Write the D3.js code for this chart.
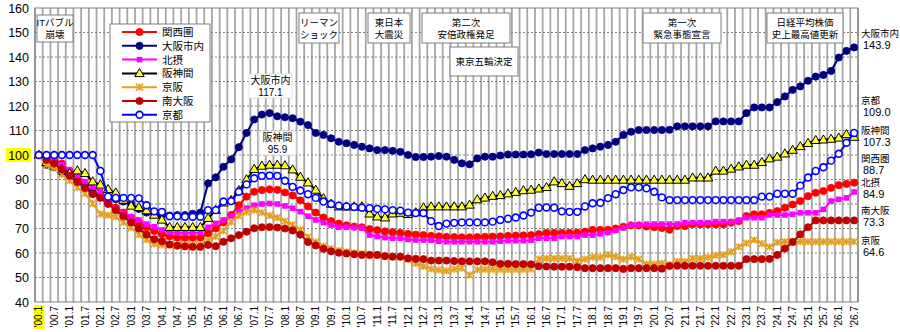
<!DOCTYPE html>
<html><head><meta charset="utf-8">
<script src="https://cdn.jsdelivr.net/npm/d3@7"></script>
<style>
body{margin:0;background:#fff;}
svg text{font-family:"Liberation Sans","Noto Sans CJK JP",sans-serif;fill:#000;}
</style></head><body>
<svg id="chart" width="900" height="332"></svg>
<script>
// ---------- data ----------
const categories = [];
for (let yr = 2000; yr <= 2026; yr++) for (const m of [1,4,7,10]) { if (yr === 2026 && m > 7) break; categories.push(yr + "." + m); }

const tickLabels = ["'00.1","'00.7","'01.1","'01.7","'02.1","'02.7","'03.1","'03.7","'04.1","'04.7","'05.1","'05.7","'06.1","'06.7","'07.1","'07.7","'08.1","'08.7","'09.1","'09.7","'10.1","'10.7","'11.1","'11.7","'12.1","'12.7","'13.1","'13.7","'14.1","'14.7","'15.1","'15.7","'16.1","'16.7","'17.1","'17.7","'18.1","'18.7","'19.1","'19.7","'20.1","'20.7","'21.1","'21.7","'22.1","'22.7","'23.1","'23.7","'24.1","'24.7","'25.1","'25.7","'26.1","'26.7"];
const yTicks = [40,50,60,70,80,90,100,110,120,130,140,150,160];
const seriesNames = ["関西圏","大阪市内","北摂","阪神間","京阪","南大阪","京都"];

const kansai = [100,99,98,96.5,93.5,90.5,87.5,85,83.5,81,78.5,76.5,74.5,72.5,70.5,69,67.8,66.8,66.3,66.2,66.2,66.3,68,70,72.5,75.5,79.5,83,85,85.7,86,85.8,84.7,83.5,81.5,79,76.5,74.5,73,72,71.3,70.8,70.5,69.8,69.3,68.8,68.5,68.2,67.8,67.5,67.3,67,66.8,66.6,66.5,66.4,66.4,66.5,66.6,66.7,66.8,67,67.1,67.2,67.3,67.7,68.2,68.2,68.2,68.2,68.3,68.7,69.4,69.4,69.5,70,70.7,71.3,71.3,70.8,70.5,70.2,69.5,71,71,71.7,71.7,71.7,71.7,71.7,72.4,73,75.1,75.8,75.8,76.4,77.1,78.5,79.8,81.2,83.2,84.6,85.3,86.6,87.7,88.2,88.7];
const osakaCity = [100,96,95,93,91.5,89.5,87,84.5,83,82.3,82,81,80,78,76.5,76,75.5,75.3,75.5,75.5,76,76.5,88.4,90.9,95.2,98.2,103.2,109,114.5,116.5,117.1,115.8,115.4,115,113.6,112.2,109,108.2,106.8,105.4,104.8,104.1,103.4,102.7,102,102,101.7,101.3,100,99.2,99.2,99.3,99.6,99.3,98,96.6,96.2,98.6,99.3,99.3,99.8,100.2,100.2,100.2,100.3,101,100.4,100.4,100.4,100.4,100.4,102,102.7,103.4,104.1,105.4,108.2,109.5,110.2,110.2,110.2,110.2,110.3,111.7,111.7,111.7,111.7,111.7,113.7,113.7,113.7,113.7,117.1,119.4,119.4,119.4,121.6,123.9,126.6,128,130.3,132,132.7,134.3,139.8,142.5,143.9];
const hokusetsu = [100,99,97.5,96,94,91.5,89.1,87,85,80.5,78,76.2,74.8,73.5,71.8,70.7,69.4,68.5,68.2,68.2,68.2,68.3,70.5,72.1,73.5,75.1,76.9,78.3,79.5,80,80.2,80,79.2,78.3,76.9,75,73.5,72.4,71.4,70.5,70.5,70.4,70.3,67.3,66.7,66.3,66,66,65.5,65.3,65.3,65.2,64.8,64.6,64.6,64.6,64.6,64.6,64.6,64.6,64.8,65,65,65,65.2,66,66,66,66.7,66.7,66.7,67.3,67.3,67.8,68.3,69.2,70.3,71.4,71.4,71.8,71.8,71.8,71.8,71.8,72.4,72.4,72.4,72.4,72.8,72.8,72.8,73.3,74.4,74.4,74.4,75.5,75.5,75.5,75.8,76.4,76.4,76.4,77.8,81.2,81.9,82.5,84.9];
const hanshin = [100,97,95.5,94.2,92.5,93.6,92.5,89.1,87.8,86,84.6,81.6,79.2,78.6,77.3,75.5,73.5,70.5,70.5,70.5,70.5,70.5,74.2,77.5,80.5,81.5,85.5,90,94.2,95.5,95.9,95.9,95.7,94,91,88.7,85.7,82.3,80,78.9,78.9,78.9,78.9,76,74.8,74.4,76,76.3,75.8,76.5,78.5,78.9,78.9,78.9,78.9,78.9,79.6,81.8,82.5,83.2,83.5,84.2,84.8,85.5,85.7,86.2,86.8,89.1,88.4,87.3,88.4,90,89.8,89.8,89.8,89.8,89.8,89.8,89.8,89.8,89.8,89.8,89.8,89.8,89.8,90.7,90.7,90.7,93.5,93.5,94.3,95.2,95.9,95.9,97,98.5,99.2,100.5,102,103.5,104.8,106,106.2,106.5,107,108.4,107.3];
const keihan = [100,96,94.8,92,89.5,86.7,84.3,80.2,75.9,75.5,74.7,72.5,70.3,67.5,65.5,63.7,63.3,63.2,63.2,63.2,63.3,63.3,65,66.7,69,72.7,75.2,76.7,77.5,76.5,75.3,74.4,73,71.5,69.5,66.5,64.5,62.8,61.8,61,60.5,60,59.6,59.3,59.2,58.8,58.6,58.5,57.5,55.8,54.5,53.5,53.1,52.7,53.4,53.8,51,53.1,53.3,53.3,53.3,53.3,53.3,53.3,53.4,57.5,57.8,57.8,57.8,57.8,56.8,57.5,58.3,58.3,59.3,58.5,57.5,58.4,57.5,55.5,55.5,55.8,55.2,56.5,56.5,57.8,57.8,58.2,59,59.2,60.5,62.5,64,65.3,63.8,62.5,64.3,64.6,64.6,64.6,64.6,64.6,64.6,64.6,64.6,64.6,64.6];
const minamiOsaka = [100,98,96.5,94,91.5,89,86.5,84,82.5,80,77.5,75,72.5,70,67.5,65.6,64.8,63.5,63,62.7,62.5,62.5,63.3,62.8,64.6,66,67.3,68.7,70.1,70.5,70.6,70.4,70,69.2,67.5,64.5,63.1,61.7,60.7,60.1,59.8,59.5,59.2,59.2,59.2,58.7,58.5,58.5,57.8,57.6,57.5,56.9,56.9,56.9,56.7,56.6,56.6,56.6,56.6,56.2,55.6,55.6,55.5,55.5,55.4,54.6,54.5,54.4,54.4,54.4,54.2,53.8,53.8,53.8,53.8,53.8,53.5,53.8,53.8,53.8,53.8,53.6,54.7,54.8,54.8,54.8,54.8,54.8,54.8,54.8,54.8,54.8,57.5,57.5,57.5,57.6,59.2,61.8,64.5,67.6,70.5,73.3,73.3,73.3,73.3,73.3,73.3];
const kyoto = [100,100,100,100,100,100,100,100,93.5,83,82.5,82.5,82.5,82.3,79.5,77,76.8,75,75,74.8,74.8,74.8,77.5,77.5,81,81.2,85,88,90.5,91.5,91.6,91.5,89.5,87,85.5,84,82.5,81,80,79.3,79,78.8,78.5,78.3,78,77.8,77.5,77.3,76.5,76.3,76.3,73,71,72,72.3,72.5,72.5,72.5,72.5,72.8,73.5,74,74.5,75.3,76.5,78.5,78.6,78.5,77,76.8,76.8,79,80.3,80.5,82.4,84,85.7,86.8,86.8,86.4,85,82.7,81.6,81.6,81.6,81.6,81.6,81.6,81.6,81.6,81.6,81.6,81.6,81.6,83,83,84.2,84.2,84.2,87.5,90.8,93.5,95,97.7,100.5,105,109.0];

const events = [
  {lines:["ITバブル","崩壊"], x0:37, x1:73, y0:15, y1:42},
  {lines:["リーマン","ショック"], x0:299, x1:339, y0:13, y1:43},
  {lines:["東日本","大震災"], x0:368, x1:410, y0:13, y1:43},
  {lines:["第二次","安倍政権発足"], x0:422, x1:510, y0:13, y1:43},
  {lines:["東京五輪決定"], x0:450, x1:518, y0:47, y1:76},
  {lines:["第一次","緊急事態宣言"], x0:643, x1:721, y0:13, y1:43},
  {lines:["日経平均株価","史上最高値更新"], x0:767, x1:843, y0:13, y1:43}
];

// ---------- chart ----------
const svg = d3.select("#chart");
const L = 35, R = 858, T = 8, B = 302;
const x = d3.scaleBand().domain(categories).range([L, R]);
const y = d3.scaleLinear().domain([40, 160]).range([B, T]);
const cx = c => x(c) + x.bandwidth() / 2;

const series = [
  {name:"関西圏", values:kansai, color:"#ff0000", marker:"circle", fill:"#ff0000"},
  {name:"大阪市内", values:osakaCity, color:"#000080", marker:"circle", fill:"#000080"},
  {name:"北摂", values:hokusetsu, color:"#ff00ff", marker:"square", fill:"#ff00ff"},
  {name:"阪神間", values:hanshin, color:"#000000", marker:"triangle", fill:"#ffff33"},
  {name:"京阪", values:keihan, color:"#e6a118", marker:"star", fill:"none"},
  {name:"南大阪", values:minamiOsaka, color:"#c00000", marker:"circle", fill:"#c00000"},
  {name:"京都", values:kyoto, color:"#0000ff", marker:"ocircle", fill:"#ffffff"}
];

// vertical grid
const bounds = categories.map(c => x(c)).concat([R]);
svg.append("g").selectAll("line").data(bounds).join("line")
  .attr("x1", d => d).attr("x2", d => d).attr("y1", T).attr("y2", B)
  .attr("stroke", "#a6a6a6").attr("stroke-width", 1.8);
// horizontal grid
svg.append("g").selectAll("line").data(yTicks.filter(v => v > 40 && v < 160)).join("line")
  .attr("x1", L).attr("x2", R).attr("y1", d => y(d)).attr("y2", d => y(d))
  .attr("stroke", "#808080").attr("stroke-width", 1).attr("stroke-dasharray", "2,2");
// border
svg.append("rect").attr("x", L).attr("y", T).attr("width", R - L).attr("height", B - T)
  .attr("fill", "none").attr("stroke", "#808080").attr("stroke-width", 1);

// y axis labels
svg.append("rect").attr("x", 6).attr("y", y(100) - 7).attr("width", 25).attr("height", 14).attr("fill", "#ffff00");
svg.append("g").selectAll("text").data(yTicks).join("text")
  .attr("x", 29).attr("y", d => y(d) + 4.5).attr("text-anchor", "end")
  .style("font-size", "12.5px").text(d => d);

// x axis labels
const xl = svg.append("g");
tickLabels.forEach((t, i) => {
  const px = cx(categories[i * 2]);
  if (i === 0) xl.append("rect").attr("x", px - 5.5).attr("y", 305).attr("width", 11).attr("height", 24).attr("fill", "#ffff00");
  xl.append("text").attr("transform", `translate(${px + 3.6},306) rotate(-90)`)
    .attr("text-anchor", "end").style("font-size", "10px").text(t);
});

// markers
function drawMarker(g, s, px, py) {
  if (s.marker === "circle") {
    g.append("circle").attr("cx", px).attr("cy", py).attr("r", 3.6).attr("fill", s.fill).attr("stroke", s.color).attr("stroke-width", 0.8);
  } else if (s.marker === "ocircle") {
    g.append("circle").attr("cx", px).attr("cy", py).attr("r", 3.4).attr("fill", "#fff").attr("stroke", s.color).attr("stroke-width", 1.6);
  } else if (s.marker === "square") {
    g.append("rect").attr("x", px - 2.8).attr("y", py - 2.8).attr("width", 5.6).attr("height", 5.6).attr("fill", s.fill);
  } else if (s.marker === "triangle") {
    g.append("path").attr("transform", `translate(${px},${py + 0.5})`)
      .attr("d", d3.symbol().type(d3.symbolTriangle).size(38)()).attr("fill", s.fill).attr("stroke", "#000").attr("stroke-width", 1);
  } else if (s.marker === "star") {
    const r = 3.6;
    g.append("path").attr("d", `M${px - r},${py - r}L${px + r},${py + r}M${px - r},${py + r}L${px + r},${py - r}M${px},${py - r}L${px},${py + r}`)
      .attr("stroke", s.color).attr("stroke-width", 1.5).attr("fill", "none");
  }
}

const line = d3.line().x((d, i) => cx(categories[i])).y(d => y(d));
series.forEach(s => {
  const g = svg.append("g");
  g.append("path").attr("d", line(s.values)).attr("fill", "none").attr("stroke", s.color).attr("stroke-width", 2);
  s.values.forEach((v, i) => drawMarker(g, s, cx(categories[i]), y(v)));
});

// event boxes
events.forEach(e => {
  const g = svg.append("g");
  g.append("rect").attr("x", e.x0).attr("y", e.y0).attr("width", e.x1 - e.x0).attr("height", e.y1 - e.y0)
    .attr("fill", "#fff").attr("stroke", "#7f7f7f").attr("stroke-width", 1);
  const mid = (e.x0 + e.x1) / 2;
  const n = e.lines.length;
  e.lines.forEach((t, k) => {
    const yy = (e.y0 + e.y1) / 2 + (k - (n - 1) / 2) * 12 + 3.5;
    g.append("text").attr("x", mid).attr("y", yy).attr("text-anchor", "middle").style("font-size", "9.5px").text(t);
  });
});

// callouts
function callout(lines, x0, x1, y0, y1) {
  svg.append("rect").attr("x", x0).attr("y", y0).attr("width", x1 - x0).attr("height", y1 - y0).attr("fill", "#fff").attr("stroke", "#e0e0e0");
  lines.forEach((t, k) => svg.append("text").attr("x", (x0 + x1) / 2).attr("y", y0 + 10 + k * 12)
    .attr("text-anchor", "middle").style("font-size", "10px").text(t));
}
callout(["大阪市内", "117.1"], 249, 292, 74, 98);
callout(["阪神間", "95.9"], 259, 296, 131, 155);

// legend
const lg = svg.append("g");
lg.append("rect").attr("x", 110).attr("y", 24).attr("width", 100).attr("height", 98).attr("fill", "#fff").attr("stroke", "#7f7f7f");
series.forEach((s, i) => {
  const ly = 32 + i * 13.8;
  lg.append("line").attr("x1", 122).attr("x2", 157).attr("y1", ly).attr("y2", ly).attr("stroke", s.color).attr("stroke-width", 2);
  drawMarker(lg, s, 139.5, ly);
  lg.append("text").attr("x", 162).attr("y", ly + 4).style("font-size", "10.5px").text(s.name);
});

// end labels
const endLabels = [
  {name:"大阪市内", v:osakaCity, y:33},
  {name:"京都", v:kyoto, y:100},
  {name:"阪神間", v:hanshin, y:130},
  {name:"関西圏", v:kansai, y:158},
  {name:"北摂", v:hokusetsu, y:182},
  {name:"南大阪", v:minamiOsaka, y:210},
  {name:"京阪", v:keihan, y:240}
];
endLabels.forEach(e => {
  svg.append("text").attr("x", 861).attr("y", e.y + 4).style("font-size", "9.5px").text(e.name);
  svg.append("text").attr("x", 863).attr("y", e.y + 16).style("font-size", "11px").text(e.v[e.v.length - 1].toFixed(1));
});
</script>
</body></html>
